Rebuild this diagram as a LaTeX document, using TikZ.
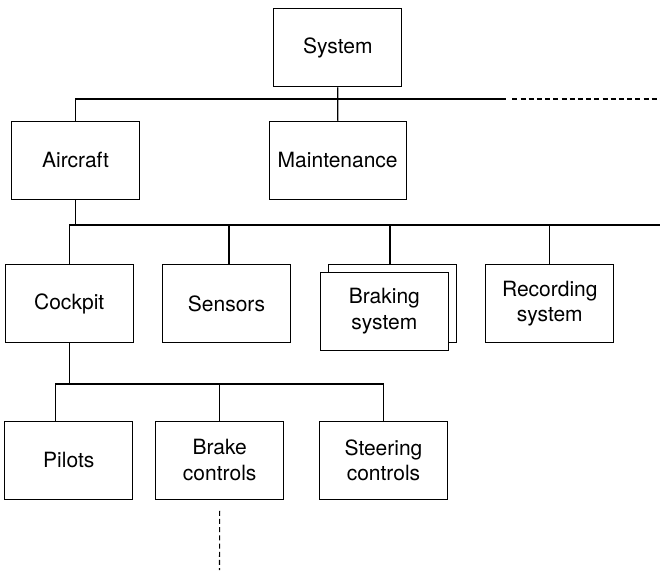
\documentclass[tikz,border=0pt]{standalone}
\usepackage{fontspec}
\setmainfont{TeX Gyre Heros}
\usetikzlibrary{calc}

\begin{document}
\begin{tikzpicture}[
		x=0.5pt,
		y=-0.5pt,
		line join=miter,
		block/.style={
			draw=black,
			fill=white,
			line width=0.55pt,
			minimum width=64pt,
			minimum height=39pt,
			inner xsep=4.3pt,
			align=center,
			font=\fontsize{10.5}{12.8}\selectfont
		},
		link/.style={
			draw=black,
			line width=0.55pt
		},
		cont/.style={
			draw=black,
			line width=0.55pt,
			dash pattern=on 2.5pt off 1.6pt
		}
		]
		
		% page frame
		\useasboundingbox (0,0) rectangle (660,573);
		
		% top level
		\node[block] (sys)   at (337.8, 47.7) {System};
		\node[block] (acft)  at (75.5, 160.3) {Aircraft};
		\node[block] (maint) at (337.7,160.3) {Maintenance};
		
		% aircraft parts
		\node[block] (cock) at (69.2, 303.8) {Cockpit};
		\node[block] (sens) at (226.5,303.8) {Sensors};
		\node[block] (brk)  at (392.7,303.8) {};
		\node[block] (brkf) at (384.3,311.3) {Braking\\system};
		\node[block] (rec)  at (549.8,303.8) {Recording\\system};
		
		% cockpit parts
		\node[block] (pil)   at (68.8, 460.2) {Pilots};
		\node[block] (bctl)  at (219.7,460.2) {Brake\\controls};
		\node[block] (steer) at (383.5,460.2) {Steering\\controls};
		
		% bus coordinates
		\coordinate (bus1)  at (505.7, 99);
		\coordinate (dash1) at (512.3, 99);
		\coordinate (end1)  at (660, 99);
		\coordinate (bus2)  at (660, 225);
		\coordinate (bus3)  at (219.7,384);
		\coordinate (end3)  at (219.5,570);
		
		% system bus
		\draw[link] (sys.south) -- (maint.north);
		\draw[link] (acft.north) |- (bus1);
		\draw[cont] (dash1) -- (end1);
		
		% aircraft bus
		\draw[link] (acft.south) -- (acft.south |- bus2);
		\draw[link] (cock.north) |- (bus2);
		\draw[link] ($(sens.north)+(2.5,0)$) -- ($(sens.north |- bus2)+(2.5,0)$);
		\draw[link] ($(brk.north)+(-2.7,0)$) -- ($(brk.north |- bus2)+(-2.7,0)$);
		\draw[link] (rec.north) -- (rec.north |- bus2);
		
		% cockpit bus
		\draw[link] (cock.south) -- (cock.south |- bus3);
		\draw[link] ($(pil.north)+(-13.5,0)$) |- (steer.north |- bus3) -- (steer.north);
		\draw[link] (bctl.north) -- (bus3);
		\draw[cont] ($(bctl.south)+(0,11)$) -- (end3);
	\end{tikzpicture}
\end{document}
